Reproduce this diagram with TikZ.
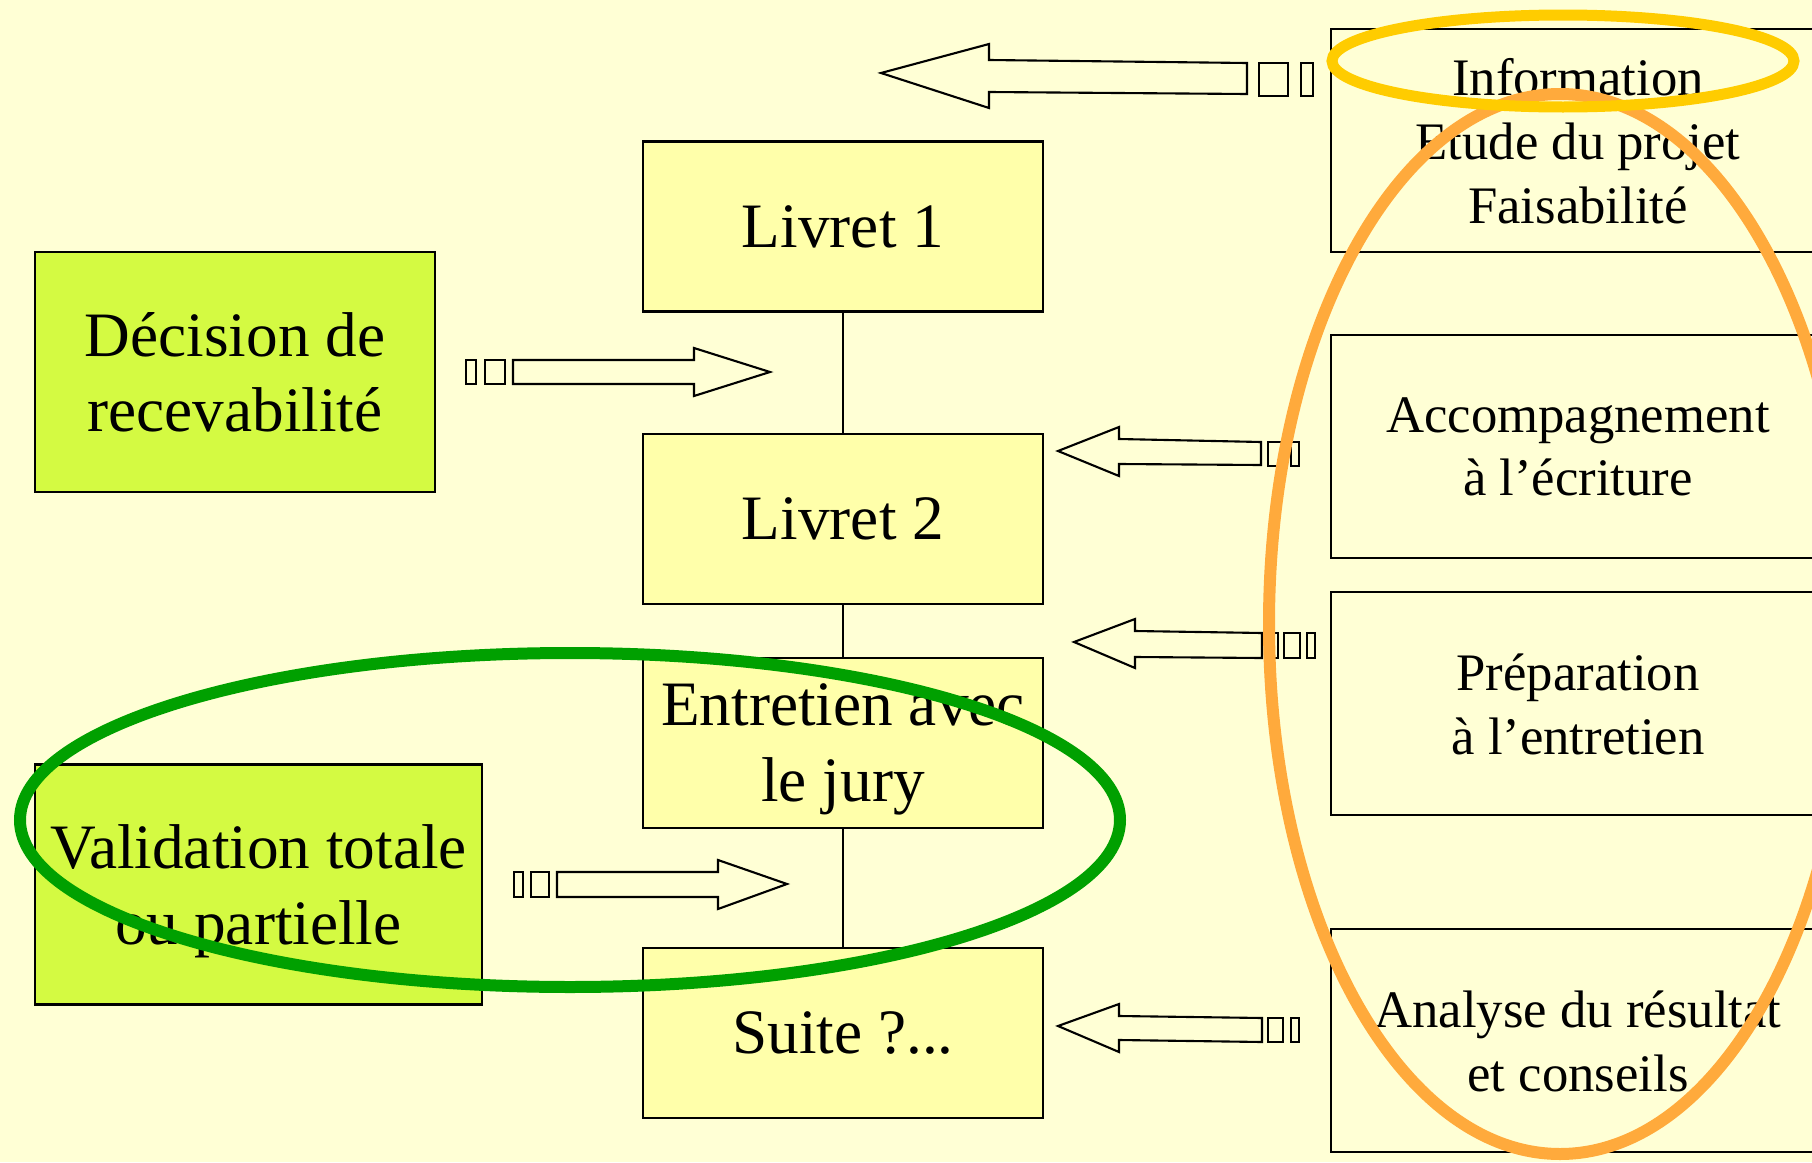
\documentclass[tikz,border=0pt]{standalone}
\usepackage{fontspec}
\setmainfont{Liberation Serif}
\usetikzlibrary{positioning}

\definecolor{bg}{RGB}{255,255,213}
\definecolor{boxyellow}{RGB}{255,255,170}
\definecolor{boxgreen}{RGB}{212,250,66}
\definecolor{ringgold}{RGB}{255,204,0}
\definecolor{ringorange}{RGB}{255,170,60}
\definecolor{ringgreen}{RGB}{0,160,0}

\begin{document}
\begin{tikzpicture}
    \useasboundingbox (0,0) rectangle (18.12,11.62);
    \fill[bg] (0,0) rectangle (18.12,11.62);
    \begin{scope}[text centered, align=center,
    		block/.style={rectangle,draw,line width=0.6pt,fill=boxyellow,inner sep=0pt,text depth=-3pt,
    			minimum width=4cm,minimum height=1.7cm,font=\fontsize{18}{21.6}\selectfont},
    		decide/.style={block,fill=boxgreen,minimum height=2.4cm},
    		helper/.style={block,fill=bg,minimum width=4.94cm,minimum height=2.23cm,text depth=-2.4pt,
    			font=\fontsize{15}{18.2}\selectfont},
    		link/.style={black,line width=0.4pt},
    		barrow/.style={draw,line width=0.6pt,fill=bg,line join=miter},
    		ring/.style={line width=0.12cm}]

    \node[block] (livret1) at (8.43,9.355) {Livret 1};
    \node[block] (livret2) [below=1.2cm of livret1] {Livret 2};
    \node[block] (entretien) [below=0.52cm of livret2] {Entretien avec\\le jury};
    \node[block] (suite) [below=1.18cm of entretien] {Suite ?...};

    \node[decide] (decision) at (2.35,7.90) [minimum width=4cm, text depth=-6pt] {Décision de\\recevabilité};
    \node[decide] (validation) at (2.585,2.775) [minimum width=4.47cm] {Validation totale\\ou partielle};

    \node[helper] (info) at (15.78,10.215) {Information\\Etude du projet\\Faisabilité};
    \node[helper] (accomp) [below=0.81cm of info] {Accompagnement\\à l’écriture};
    \node[helper] (prep) [below=0.32cm of accomp] {Préparation\\à l’entretien};
    \node[helper] (analyse) [below=1.12cm of prep] {Analyse du résultat\\et conseils};

    \draw[link]
    (livret1) -- (livret2)
    (livret2) -- (entretien)
    (entretien) -- (suite);

    % block arrows, right column towards the centre
    \draw[barrow] (8.81,10.89) -- (9.89,11.18) -- (9.89,11.02) -- (12.47,10.99) -- (12.47,10.68) -- (9.89,10.70) -- (9.89,10.54) -- cycle;
    \draw[barrow] (12.59,10.66) rectangle (12.88,10.99) (13.01,10.66) rectangle (13.13,10.99);

    \draw[barrow] (10.58,7.11) -- (11.19,7.35) -- (11.19,7.23) -- (12.61,7.20) -- (12.61,6.97) -- (11.19,6.98) -- (11.19,6.86) -- cycle;
    \draw[barrow] (12.68,6.96) rectangle (12.83,7.20) (12.91,6.96) rectangle (12.99,7.20);

    \draw[barrow] (10.74,5.20) -- (11.35,5.43) -- (11.35,5.31) -- (12.62,5.29) -- (12.62,5.04) -- (11.35,5.05) -- (11.35,4.94) -- cycle;
    \draw[barrow] (12.68,5.04) rectangle (12.78,5.29) (12.84,5.04) rectangle (13.00,5.29) (13.07,5.04) rectangle (13.15,5.29);

    \draw[barrow] (10.58,1.36) -- (11.19,1.58) -- (11.19,1.46) -- (12.62,1.44) -- (12.62,1.20) -- (11.19,1.22) -- (11.19,1.10) -- cycle;
    \draw[barrow] (12.68,1.20) rectangle (12.83,1.44) (12.91,1.20) rectangle (12.99,1.44);

    % block arrows, left column
    \draw[barrow] (5.13,8.02) -- (6.94,8.02) -- (6.94,8.14) -- (7.70,7.90) -- (6.94,7.66) -- (6.94,7.78) -- (5.13,7.78) -- cycle;
    \draw[barrow] (4.66,7.78) rectangle (4.76,8.02) (4.85,7.78) rectangle (5.05,8.02);

    \draw[barrow] (5.57,2.90) -- (7.18,2.90) -- (7.18,3.02) -- (7.87,2.78) -- (7.18,2.53) -- (7.18,2.65) -- (5.57,2.65) -- cycle;
    \draw[barrow] (5.14,2.65) rectangle (5.23,2.90) (5.31,2.65) rectangle (5.49,2.90);

    % rings on top
    \draw[ring,ringgreen] (5.70,3.42) ellipse [x radius=5.50cm, y radius=1.67cm];
    \draw[ring,ringorange] (15.60,5.38) ellipse [x radius=2.91cm, y radius=5.30cm];
    \draw[ring,ringgold,line width=0.11cm] (15.63,11.01) ellipse [x radius=2.31cm, y radius=0.46cm];

    \end{scope}
\end{tikzpicture}
\end{document}
